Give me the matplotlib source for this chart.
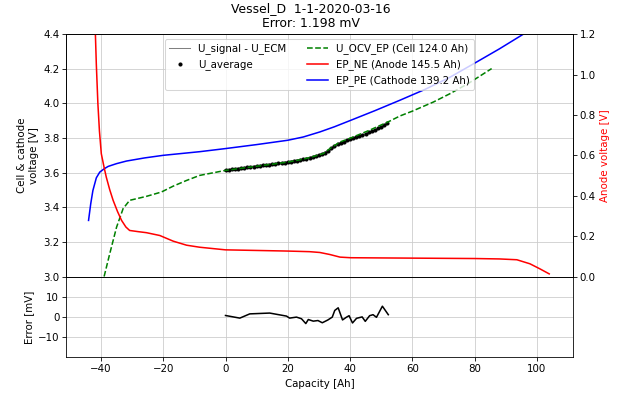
import matplotlib
matplotlib.use("Agg")
import matplotlib.pyplot as plt
from matplotlib.lines import Line2D

# cathode (EP_PE), left axis [V]
pe_cap = [-44.0, -43.3, -42.6, -41.5, -40.4, -39.0, -37.7, -35.0, -31.8, -26.0, -20.0,
          -8.3, 0.0, 10.0, 20.0, 25.0, 30.3, 35.0, 40.2, 48.0, 56.0, 64.0, 72.0, 80.2,
          88.0, 95.7]
pe_v = [3.324, 3.42, 3.497, 3.570, 3.603, 3.622, 3.636, 3.652, 3.667, 3.685, 3.700,
        3.721, 3.739, 3.762, 3.787, 3.806, 3.835, 3.865, 3.902, 3.958, 4.018, 4.080,
        4.150, 4.234, 4.315, 4.400]

# full cell OCV (U_OCV_EP), left axis [V]
ocv_cap = [-39.0, -37.2, -35.0, -32.9, -30.8, -25.4, -20.6, -16.8, -12.5, -8.3, 0.0,
           10.0, 20.0, 25.0, 28.0, 31.4, 34.0, 36.8, 40.2, 46.0, 52.8, 56.0, 60.0,
           66.8, 72.0, 78.0, 85.5]
ocv_v = [3.000, 3.131, 3.285, 3.392, 3.440, 3.463, 3.488, 3.522, 3.555, 3.584, 3.613,
         3.637, 3.661, 3.678, 3.692, 3.710, 3.745, 3.777, 3.800, 3.843, 3.898, 3.927,
         3.955, 4.008, 4.055, 4.115, 4.201]

# anode (EP_NE), right axis [V]
ne_cap = [-42.0, -41.5, -41.0, -40.5, -39.9, -39.0, -38.3, -37.2, -36.1, -34.7, -33.4,
          -32.0, -30.8, -28.0, -25.4, -21.1, -16.8, -12.5, -8.3, 0.0, 10.0, 20.0,
          27.0, 30.3, 33.5, 36.8, 40.2, 50.0, 60.0, 70.0, 80.2, 88.0, 93.6, 97.8,
          101.0, 104.0]
ne_v = [1.30, 1.05, 0.856, 0.72, 0.608, 0.540, 0.492, 0.430, 0.377, 0.322, 0.278,
        0.245, 0.228, 0.222, 0.217, 0.203, 0.175, 0.155, 0.145, 0.132, 0.129, 0.126,
        0.123, 0.119, 0.109, 0.096, 0.093, 0.092, 0.091, 0.090, 0.089, 0.087, 0.083,
        0.063, 0.038, 0.013]

# measured data, one sample per Ah (0 .. 52 Ah)
meas_cap = list(range(0, 53))
u_signal = [3.612, 3.615, 3.617, 3.620, 3.622, 3.624, 3.627, 3.629, 3.631, 3.634,
            3.636, 3.638, 3.641, 3.643, 3.645, 3.647, 3.650, 3.652, 3.654, 3.657,
            3.660, 3.663, 3.666, 3.669, 3.672, 3.676, 3.680, 3.684, 3.689, 3.694,
            3.699, 3.705, 3.714, 3.725, 3.738, 3.750, 3.762, 3.770, 3.777, 3.784,
            3.791, 3.797, 3.803, 3.809, 3.815, 3.822, 3.829, 3.837, 3.845, 3.853,
            3.862, 3.872, 3.883]
u_average = [3.614, 3.616, 3.619, 3.621, 3.623, 3.626, 3.628, 3.631, 3.632, 3.635,
             3.637, 3.640, 3.642, 3.644, 3.647, 3.648, 3.651, 3.653, 3.656, 3.658,
             3.661, 3.664, 3.668, 3.670, 3.674, 3.677, 3.681, 3.686, 3.690, 3.695,
             3.701, 3.707, 3.716, 3.727, 3.740, 3.752, 3.764, 3.771, 3.779, 3.786,
             3.793, 3.799, 3.805, 3.811, 3.817, 3.824, 3.832, 3.839, 3.847, 3.856,
             3.865, 3.875, 3.886]

# fit error [mV]
err_cap = [0.0, 4.6, 7.8, 14.2, 19.6, 20.6, 22.8, 24.4, 25.8, 26.6, 28.2, 29.7, 31.1,
           32.9, 34.3, 35.1, 36.2, 37.6, 38.8, 39.7, 40.8, 42.1, 43.9, 44.9, 46.3,
           47.4, 48.5, 50.4, 52.3]
err_mv = [0.7, -0.6, 1.5, 1.9, 0.4, -0.6, -0.1, -0.9, -3.3, -1.3, -2.1, -1.8, -2.9,
          -1.5, -0.1, 3.2, 4.5, -1.5, -0.2, 0.6, -3.0, -0.7, 0.0, -2.2, 0.6, 1.1,
          -0.2, 5.3, 1.1]

DPI = 74

fig, (ax, ax_err) = plt.subplots(2, 1, sharex=True, figsize=(621 / DPI, 397 / DPI), dpi=DPI,
                                 gridspec_kw={"height_ratios": [3, 1], "hspace": 0})
fig.subplots_adjust(left=0.107, right=0.922, top=0.914, bottom=0.10)

ax.plot(meas_cap, u_signal, color="gray", linewidth=2.5)
ax.plot(meas_cap, u_average, "k.")
ax.plot(pe_cap, pe_v, color="blue")
ax.plot(ocv_cap, ocv_v, color="green", linestyle="--")
ax.set_ylim(3.0, 4.4)
ax.set_xlim(-51.1, 111.5)
ax.set_ylabel("Cell & cathode\nvoltage [V]")
ax.grid(True, color="#cccccc")

ax2 = ax.twinx()
ax2.plot(ne_cap, ne_v, color="red")
ax2.set_ylim(0.0, 1.2)
ax2.set_ylabel("Anode voltage [V]", color="red")

ax_err.plot(err_cap, err_mv, color="black")
ax_err.set_ylim(-20, 20)
ax_err.set_yticks([-10, 0, 10])
ax_err.set_ylabel("Error [mV]")
ax_err.set_xlabel("Capacity [Ah]")
ax_err.grid(True, color="#cccccc")

handles = [
    Line2D([], [], color="gray", linewidth=1.0),
    Line2D([], [], color="black", marker=".", linestyle="none"),
    Line2D([], [], color="none"),
    Line2D([], [], color="green", linestyle="--"),
    Line2D([], [], color="red"),
    Line2D([], [], color="blue"),
]
labels = ["U_signal - U_ECM", "U_average", "", "U_OCV_EP (Cell 124.0 Ah)",
          "EP_NE (Anode 145.5 Ah)", "EP_PE (Cathode 139.2 Ah)"]
ax2.legend(handles, labels, ncol=2, loc="upper center", bbox_to_anchor=(0.5, 1.0))

fig.suptitle("Vessel_D  1-1-2020-03-16\nError: 1.198 mV", fontsize=12, y=0.995)

fig.savefig("out.png", dpi=DPI)
